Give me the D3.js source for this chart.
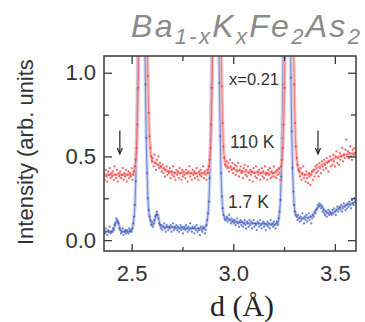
<!DOCTYPE html>
<html>
<head>
<meta charset="utf-8">
<script src="https://cdn.jsdelivr.net/npm/d3@7"></script>
<style>
  html, body { margin: 0; padding: 0; background: #fff; }
  svg { display: block; font-family: "Liberation Sans", Arial, sans-serif; }
</style>
</head>
<body>
<svg id="chart" width="365" height="322"></svg>
<script>
// measured grid in d (Å)
const dStart = 2.364;
const dStep = 0.004;

// 1.7 K scan
const blueI = [
  0.06,0.04,0.07,0.05,0.03,0.06,0.05,0.08,0.04,0.05,
  0.05,0.07,0.06,0.09,0.10,0.13,0.12,0.11,0.10,0.07,
  0.06,0.04,0.05,0.07,0.03,0.05,0.06,0.04,0.06,0.05,
  0.04,0.07,0.05,0.06,0.05,0.07,0.10,0.14,0.21,0.35,
  0.58,0.90,1.31,1.75,2.17,2.46,2.57,2.45,2.16,1.74,
  1.33,0.93,0.61,0.40,0.25,0.18,0.14,0.12,0.09,0.11,
  0.08,0.10,0.12,0.14,0.15,0.17,0.15,0.13,0.10,0.09,
  0.07,0.09,0.06,0.08,0.10,0.07,0.05,0.09,0.08,0.06,
  0.08,0.07,0.09,0.05,0.08,0.10,0.06,0.08,0.07,0.09,
  0.06,0.08,0.05,0.07,0.09,0.06,0.08,0.04,0.07,0.08,
  0.06,0.09,0.07,0.05,0.08,0.06,0.10,0.07,0.05,0.08,
  0.07,0.04,0.08,0.06,0.09,0.05,0.07,0.06,0.03,0.08,
  0.06,0.05,0.08,0.07,0.04,0.06,0.09,0.12,0.16,0.23,
  0.37,0.60,0.91,1.32,1.76,2.18,2.47,2.58,2.49,2.20,
  1.79,1.35,0.94,0.62,0.40,0.26,0.19,0.15,0.13,0.12,
  0.12,0.14,0.11,0.13,0.15,0.12,0.10,0.13,0.11,0.12,
  0.10,0.12,0.09,0.11,0.13,0.10,0.08,0.11,0.12,0.09,
  0.11,0.08,0.10,0.12,0.09,0.07,0.11,0.10,0.08,0.12,
  0.09,0.11,0.07,0.10,0.12,0.08,0.10,0.09,0.06,0.11,
  0.10,0.08,0.12,0.09,0.07,0.10,0.11,0.08,0.10,0.06,
  0.09,0.11,0.08,0.10,0.07,0.12,0.09,0.10,0.08,0.11,
  0.09,0.07,0.10,0.11,0.09,0.13,0.17,0.24,0.38,0.61,
  0.93,1.34,1.78,2.20,2.49,2.61,2.50,2.23,1.81,1.38,
  0.97,0.65,0.43,0.29,0.21,0.17,0.15,0.14,0.12,0.15,
  0.13,0.11,0.14,0.12,0.16,0.13,0.10,0.14,0.12,0.15,
  0.11,0.13,0.16,0.12,0.14,0.10,0.13,0.15,0.14,0.17,
  0.16,0.18,0.19,0.21,0.20,0.22,0.21,0.19,0.20,0.17,
  0.18,0.16,0.15,0.17,0.14,0.16,0.18,0.15,0.17,0.16,
  0.15,0.18,0.16,0.19,0.17,0.15,0.18,0.20,0.17,0.19,
  0.20,0.18,0.21,0.17,0.19,0.22,0.20,0.18,0.21,0.19,
  0.22,0.20,0.23,0.21,0.19,0.24,0.22,0.21,0.25,0.23,0.22
];

// 110 K scan
const redI = [
  0.40,0.36,0.42,0.38,0.35,0.41,0.39,0.43,0.37,0.40,
  0.38,0.41,0.36,0.44,0.39,0.37,0.42,0.35,0.40,0.38,
  0.41,0.37,0.39,0.43,0.36,0.40,0.38,0.42,0.35,0.39,
  0.41,0.37,0.40,0.38,0.43,0.36,0.39,0.41,0.44,0.48,
  0.55,0.69,0.91,1.23,1.64,2.08,2.50,2.79,2.90,2.80,
  2.51,2.09,1.66,1.27,0.98,0.76,0.62,0.55,0.50,0.47,
  0.49,0.44,0.51,0.46,0.42,0.48,0.45,0.50,0.43,0.46,
  0.44,0.41,0.45,0.40,0.43,0.38,0.42,0.44,0.39,0.41,
  0.40,0.43,0.37,0.41,0.39,0.44,0.38,0.40,0.36,0.42,
  0.39,0.41,0.37,0.43,0.40,0.36,0.42,0.38,0.41,0.39,
  0.37,0.42,0.40,0.35,0.41,0.44,0.38,0.40,0.36,0.42,
  0.39,0.41,0.37,0.40,0.43,0.38,0.36,0.41,0.39,0.42,
  0.38,0.40,0.44,0.37,0.41,0.39,0.36,0.42,0.40,0.44,
  0.48,0.55,0.69,0.91,1.23,1.64,2.08,2.50,2.79,2.90,
  2.80,2.51,2.09,1.65,1.24,0.92,0.70,0.56,0.49,0.45,
  0.44,0.47,0.43,0.46,0.41,0.48,0.44,0.42,0.46,0.40,
  0.43,0.45,0.39,0.44,0.41,0.46,0.38,0.42,0.44,0.40,
  0.41,0.37,0.43,0.45,0.39,0.42,0.38,0.44,0.40,0.36,
  0.42,0.39,0.41,0.35,0.43,0.40,0.38,0.44,0.37,0.41,
  0.39,0.42,0.36,0.40,0.43,0.38,0.41,0.37,0.44,0.39,
  0.40,0.36,0.42,0.39,0.43,0.37,0.41,0.38,0.40,0.44,
  0.38,0.41,0.37,0.42,0.39,0.43,0.40,0.36,0.44,0.48,
  0.55,0.69,0.91,1.23,1.64,2.08,2.50,2.79,2.90,2.80,
  2.51,2.09,1.65,1.25,0.93,0.70,0.56,0.49,0.45,0.42,
  0.41,0.38,0.43,0.36,0.40,0.44,0.37,0.39,0.35,0.41,
  0.37,0.34,0.40,0.38,0.33,0.39,0.41,0.36,0.42,0.38,
  0.44,0.40,0.45,0.41,0.38,0.46,0.43,0.40,0.47,0.44,
  0.42,0.48,0.45,0.43,0.49,0.46,0.41,0.47,0.50,0.44,
  0.48,0.45,0.51,0.47,0.44,0.50,0.53,0.46,0.49,0.45,
  0.52,0.48,0.50,0.55,0.47,0.51,0.49,0.54,0.60,0.50,
  0.53,0.49,0.52,0.56,0.50,0.48,0.54,0.51,0.55,0.52,0.50
];

// fitted curves [d, I]
const blueFit = [
  [2.364,0.05],[2.404,0.05],[2.416,0.08],[2.424,0.11],[2.428,0.12],[2.432,0.11],[2.440,0.08],[2.452,0.05],[2.500,0.06],
  [2.508,0.10],[2.512,0.14],[2.516,0.21],[2.520,0.35],[2.524,0.58],[2.528,0.90],[2.532,1.31],[2.536,1.75],[2.540,2.17],[2.544,2.46],[2.548,2.57],
  [2.552,2.46],[2.556,2.17],[2.560,1.75],[2.564,1.33],[2.568,0.93],[2.572,0.61],[2.576,0.40],[2.580,0.25],[2.584,0.18],[2.592,0.12],[2.604,0.09],
  [2.616,0.13],[2.624,0.16],[2.632,0.13],[2.644,0.08],[2.700,0.075],[2.800,0.07],[2.860,0.07],
  [2.872,0.12],[2.876,0.16],[2.880,0.23],[2.884,0.37],[2.888,0.59],[2.892,0.91],[2.896,1.32],[2.900,1.76],[2.904,2.18],[2.908,2.47],[2.912,2.58],
  [2.916,2.49],[2.920,2.20],[2.924,1.79],[2.928,1.35],[2.932,0.94],[2.936,0.62],[2.940,0.40],[2.944,0.26],[2.948,0.19],[2.956,0.14],
  [2.976,0.125],[3.000,0.11],[3.100,0.10],[3.200,0.095],
  [3.220,0.10],[3.224,0.13],[3.228,0.17],[3.232,0.24],[3.236,0.38],[3.240,0.61],[3.244,0.93],[3.248,1.34],[3.252,1.78],[3.256,2.20],[3.260,2.49],[3.264,2.61],
  [3.268,2.50],[3.272,2.23],[3.276,1.81],[3.280,1.38],[3.284,0.97],[3.288,0.65],[3.292,0.43],[3.296,0.29],[3.300,0.21],[3.308,0.15],
  [3.330,0.13],[3.380,0.14],[3.404,0.17],[3.420,0.20],[3.432,0.21],[3.448,0.18],[3.480,0.16],[3.520,0.19],[3.560,0.21],[3.604,0.23]
];
const redFit = [
  [2.364,0.39],[2.500,0.39],[2.516,0.43],[2.520,0.48],[2.524,0.55],[2.528,0.69],[2.532,0.91],[2.536,1.23],[2.540,1.64],[2.544,2.08],[2.548,2.50],[2.552,2.79],[2.556,2.90],
  [2.560,2.80],[2.564,2.51],[2.568,2.09],[2.572,1.66],[2.576,1.27],[2.580,0.98],[2.584,0.76],[2.588,0.62],[2.592,0.55],[2.596,0.50],[2.604,0.47],[2.620,0.46],[2.640,0.44],
  [2.680,0.41],[2.750,0.40],[2.870,0.40],
  [2.880,0.44],[2.884,0.48],[2.888,0.55],[2.892,0.69],[2.896,0.91],[2.900,1.23],[2.904,1.64],[2.908,2.08],[2.912,2.50],[2.916,2.79],[2.920,2.90],
  [2.924,2.80],[2.928,2.51],[2.932,2.09],[2.936,1.65],[2.940,1.24],[2.944,0.92],[2.948,0.70],[2.952,0.56],[2.956,0.49],[2.964,0.45],[2.990,0.43],[3.050,0.41],[3.200,0.40],
  [3.236,0.44],[3.240,0.48],[3.244,0.55],[3.248,0.69],[3.252,0.91],[3.256,1.23],[3.260,1.64],[3.264,2.08],[3.268,2.50],[3.272,2.79],[3.276,2.90],
  [3.280,2.80],[3.284,2.51],[3.288,2.09],[3.292,1.65],[3.296,1.25],[3.300,0.93],[3.304,0.70],[3.308,0.56],[3.312,0.49],[3.320,0.43],[3.340,0.39],
  [3.370,0.39],[3.400,0.42],[3.450,0.46],[3.500,0.49],[3.550,0.51],[3.604,0.52]
];

const xMajor = [2.5, 3.0, 3.5];
const xMinor = [2.75, 3.25];
const yMajor = [0.0, 0.5, 1.0];
const yMinor = [0.25, 0.75];
const arrowD = [2.442, 3.417];
const arrowRange = [0.655, 0.515];

const titleParts = [
  { t: 'Ba', sub: false }, { t: '1-x', sub: true }, { t: 'K', sub: false }, { t: 'x', sub: true },
  { t: 'Fe', sub: false }, { t: '2', sub: true }, { t: 'As', sub: false }, { t: '2', sub: true }
];

const svg = d3.select('#chart');
const plot = { left: 104, right: 356, top: 56, bottom: 251 };

const x = d3.scaleLinear().domain([2.364, 3.604]).range([plot.left, plot.right]);
const y = d3.scaleLinear().domain([-0.065, 1.10]).range([plot.bottom, plot.top]);

svg.append('defs').append('clipPath').attr('id', 'clip')
  .append('rect')
  .attr('x', plot.left).attr('y', plot.top)
  .attr('width', plot.right - plot.left).attr('height', plot.bottom - plot.top);

const toPts = arr => arr.map((v, i) => ({ d: dStart + i * dStep, v: v }));
const series = [
  { name: 'blue', pts: toPts(blueI), fit: blueFit, dot: '#4a67c6', band: '#b3c0ea', line: '#3553b8' },
  { name: 'red', pts: toPts(redI), fit: redFit, dot: '#f23d3d', band: '#f9b0b0', line: '#ec3a3e' }
];

const inner = svg.append('g').attr('clip-path', 'url(#clip)');
const line = d3.line().x(p => x(p[0])).y(p => y(p[1])).curve(d3.curveMonotoneX);

series.forEach(s => {
  const g = inner.append('g').attr('class', s.name);
  g.append('path').datum(s.fit)
    .attr('d', line).attr('fill', 'none')
    .attr('stroke', s.band).attr('stroke-width', 3.5).attr('stroke-opacity', 0.7);
  g.selectAll('circle').data(s.pts).enter().append('circle')
    .attr('cx', p => x(p.d)).attr('cy', p => y(p.v))
    .attr('r', 1.15).attr('fill', s.dot).attr('fill-opacity', 0.8);
  g.append('path').datum(s.fit)
    .attr('d', line).attr('fill', 'none')
    .attr('stroke', s.line).attr('stroke-width', 0.8).attr('stroke-opacity', 0.75);
});

// axes, ticks inward
const axisCol = '#3a3a3a';
function styleAxis(g) {
  g.select('.domain').remove();
  g.selectAll('line').attr('stroke', axisCol).attr('stroke-width', 1.3);
  g.selectAll('text').attr('fill', '#333').style('font-size', '22px')
    .style('font-family', '"Liberation Sans", Arial, sans-serif');
}
const fmt = d3.format('.1f');

svg.append('g').attr('transform', `translate(0,${plot.bottom})`)
  .call(d3.axisBottom(x).tickValues(xMajor).tickSize(-7).tickPadding(14).tickFormat(fmt)).call(styleAxis);
svg.append('g').attr('transform', `translate(0,${plot.bottom})`)
  .call(d3.axisBottom(x).tickValues(xMinor).tickSize(-4).tickFormat('')).call(styleAxis);
svg.append('g').attr('transform', `translate(0,${plot.top})`)
  .call(d3.axisTop(x).tickValues(xMajor).tickSize(-8).tickFormat('')).call(styleAxis);
svg.append('g').attr('transform', `translate(0,${plot.top})`)
  .call(d3.axisTop(x).tickValues(xMinor).tickSize(-5).tickFormat('')).call(styleAxis);

svg.append('g').attr('transform', `translate(${plot.left},0)`)
  .call(d3.axisLeft(y).tickValues(yMajor).tickSize(-8).tickPadding(8).tickFormat(fmt)).call(styleAxis);
svg.append('g').attr('transform', `translate(${plot.left},0)`)
  .call(d3.axisLeft(y).tickValues(yMinor).tickSize(-5).tickFormat('')).call(styleAxis);
svg.append('g').attr('transform', `translate(${plot.right},0)`)
  .call(d3.axisRight(y).tickValues(yMajor).tickSize(-8).tickFormat('')).call(styleAxis);
svg.append('g').attr('transform', `translate(${plot.right},0)`)
  .call(d3.axisRight(y).tickValues(yMinor).tickSize(-5).tickFormat('')).call(styleAxis);

svg.append('rect')
  .attr('x', plot.left).attr('y', plot.top)
  .attr('width', plot.right - plot.left).attr('height', plot.bottom - plot.top)
  .attr('fill', 'none').attr('stroke', axisCol).attr('stroke-width', 1.5);

// arrows
arrowD.forEach(d => {
  const ax = x(d), y0 = y(arrowRange[0]), y1 = y(arrowRange[1]);
  svg.append('line').attr('x1', ax).attr('x2', ax).attr('y1', y0).attr('y2', y1 - 1)
    .attr('stroke', '#222').attr('stroke-width', 1.2);
  svg.append('path')
    .attr('d', `M${ax - 2.5},${y1 - 6} L${ax},${y1} L${ax + 2.5},${y1 - 6}`)
    .attr('fill', 'none').attr('stroke', '#222').attr('stroke-width', 1.2);
});

// labels in plot
const lab = (txt, lx, ly, size) => svg.append('text')
  .attr('x', lx).attr('y', ly).attr('fill', '#333')
  .style('font-size', size + 'px').text(txt);
lab('x=0.21', 229, 85, 16.5);
lab('110 K', 230, 148, 17.5);
lab('1.7 K', 228, 208, 17.5);

// axis titles
svg.append('text')
  .attr('transform', 'translate(33,245) rotate(-90)')
  .attr('fill', '#333').style('font-size', '22px')
  .text('Intensity (arb. units');

svg.append('text')
  .attr('x', 242).attr('y', 316).attr('text-anchor', 'middle')
  .attr('fill', '#222')
  .style('font-family', '"Liberation Serif", "Times New Roman", serif')
  .style('font-size', '30px')
  .text('d (\u00C5)');

// compound title
const title = svg.append('text')
  .attr('x', 131).attr('y', 37)
  .attr('fill', '#8a8a8a').style('font-style', 'italic')
  .style('font-size', '32px').style('letter-spacing', '2.3px');
let down = false;
titleParts.forEach(p => {
  const ts = title.append('tspan').text(p.t);
  if (p.sub) { ts.style('font-size', '22px'); if (!down) ts.attr('dy', 7); down = true; }
  else { if (down) ts.attr('dy', -7); down = false; }
});
</script>
</body>
</html>
